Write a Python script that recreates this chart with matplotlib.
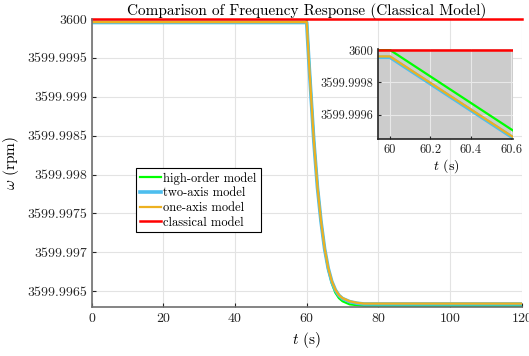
import matplotlib
matplotlib.use("Agg")
import matplotlib.pyplot as plt

plt.rcParams['font.family'] = 'serif'
plt.rcParams['font.serif'] = ['cmr10', 'DejaVu Serif']
plt.rcParams['mathtext.fontset'] = 'cm'
plt.rcParams['axes.formatter.use_mathtext'] = True

# time samples (s)
t = [0, 60, 60.6, 61, 62, 63, 64, 65, 66, 67, 68, 69, 70, 72, 74, 76, 80, 120]

# rotor speed (rpm) per model
w_high = [3600.0, 3600.0, 3599.99951, 3599.99920, 3599.99845, 3599.99785,
          3599.99740, 3599.99704, 3599.99678, 3599.99660, 3599.99648,
          3599.99641, 3599.99637, 3599.99633, 3599.99632, 3599.99631,
          3599.99631, 3599.99631]
w_two = [3599.999955, 3599.999955, 3599.999465, 3599.999165, 3599.998425,
         3599.997835, 3599.997395, 3599.997045, 3599.996795, 3599.996625,
         3599.996515, 3599.996445, 3599.996405, 3599.996365, 3599.996345,
         3599.996335, 3599.996335, 3599.996335]
w_one = [3599.99996, 3599.99996, 3599.99947, 3599.99917, 3599.99843,
         3599.99784, 3599.99740, 3599.99705, 3599.99680, 3599.99663,
         3599.99652, 3599.99645, 3599.99641, 3599.99637, 3599.99635,
         3599.99634, 3599.99634, 3599.99634]
w_classic = [3600.0] * len(t)

labels = ['high-order model', 'two-axis model', 'one-axis model', 'classical model']
colors = ['#00ff00', '#4dbeee', '#edb120', '#ff0000']
widths = [1.6, 2.6, 1.6, 1.8]
series = [w_high, w_two, w_one, w_classic]

y_ticks = [3599.9965, 3599.997, 3599.9975, 3599.998, 3599.9985, 3599.999, 3599.9995, 3600]
y_tick_labels = ['3599.9965', '3599.997', '3599.9975', '3599.998',
                 '3599.9985', '3599.999', '3599.9995', '3600']
in_y_ticks = [3599.9996, 3599.9998, 3600]
in_y_tick_labels = ['3599.9996', '3599.9998', '3600']
in_x_ticks = [60, 60.2, 60.4, 60.6]
in_x_tick_labels = ['60', '60.2', '60.4', '60.6']

fig = plt.figure(figsize=(5.29, 3.56), dpi=100)
ax = fig.add_axes([0.1733, 0.1385, 0.8129, 0.8081])

for w, lab, c, lw in zip(series, labels, colors, widths):
    ax.plot(t, w, color=c, lw=lw, label=lab, clip_on=(lab != 'classical model'))

ax.set_xlim(0, 120)
ax.set_ylim(3599.9963, 3600)
ax.set_xticks(range(0, 121, 20))
ax.set_yticks(y_ticks)
ax.set_yticklabels(y_tick_labels)
ax.grid(True, color='#e3e3e3', lw=0.8)
ax.set_axisbelow(True)
for s in ['top', 'right']:
    ax.spines[s].set_visible(False)
for s in ['left', 'bottom']:
    ax.spines[s].set_color('#707070')
    ax.spines[s].set_linewidth(1.2)
ax.tick_params(direction='in', labelsize=10, colors='#262626', length=3)
ax.set_xlabel('$t$ (s)', fontsize=11)
ax.set_ylabel(r'$\omega$ (rpm)', fontsize=11, labelpad=4)
ax.set_title('Comparison of Frequency Response (Classical Model)', fontsize=11, pad=3)

leg = ax.legend(loc='upper left', bbox_to_anchor=(0.103, 0.481), borderaxespad=0,
                fontsize=9, fancybox=False, framealpha=1, edgecolor='black',
                handlelength=1.7, handletextpad=0.2, labelspacing=0.2, borderpad=0.3)
leg.get_frame().set_linewidth(0.8)

# zoomed inset around the disturbance
ins = fig.add_axes([0.7151, 0.6096, 0.2552, 0.2528])
ins.set_facecolor('#cccccc')
for w, c, lw in zip(series, colors, widths):
    ins.plot(t, w, color=c, lw=lw)
ins.set_xlim(59.942, 60.611)
ins.set_ylim(3599.99945, 3600.000006)
ins.set_xticks(in_x_ticks)
ins.set_xticklabels(in_x_tick_labels)
ins.set_yticks(in_y_ticks)
ins.set_yticklabels(in_y_tick_labels)
ins.grid(True, color='#e8e8e8', lw=0.8)
ins.set_axisbelow(True)
for s in ['top', 'right']:
    ins.spines[s].set_visible(False)
for s in ['left', 'bottom']:
    ins.spines[s].set_color('#262626')
    ins.spines[s].set_linewidth(1.2)
ins.tick_params(direction='in', labelsize=9, colors='#262626', length=2)
ins.set_xlabel('$t$ (s)', fontsize=10, labelpad=1)

fig.savefig('out.png', dpi=100)
